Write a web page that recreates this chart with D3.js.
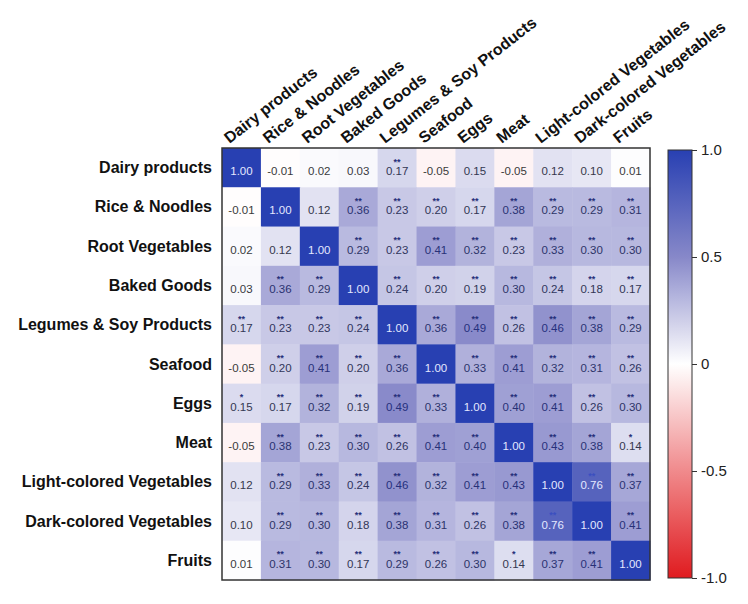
<!DOCTYPE html>
<html>
<head>
<meta charset="utf-8">
<script src="https://cdn.jsdelivr.net/npm/d3@7"></script>
<style>
  html, body { margin: 0; padding: 0; background: #fff; }
  svg { display: block; font-family: "Liberation Sans", Arial, sans-serif; }
</style>
</head>
<body>
<svg id="chart" width="748" height="604"></svg>
<script>
const categories = [
  "Dairy products", "Rice & Noodles", "Root Vegetables", "Baked Goods",
  "Legumes & Soy Products", "Seafood", "Eggs", "Meat",
  "Light-colored Vegetables", "Dark-colored Vegetables", "Fruits"
];

const corrValues = [
  [1.00, -0.01, 0.02, 0.03, 0.17, -0.05, 0.15, -0.05, 0.12, 0.10, 0.01],
  [-0.01, 1.00, 0.12, 0.36, 0.23, 0.20, 0.17, 0.38, 0.29, 0.29, 0.31],
  [0.02, 0.12, 1.00, 0.29, 0.23, 0.41, 0.32, 0.23, 0.33, 0.30, 0.30],
  [0.03, 0.36, 0.29, 1.00, 0.24, 0.20, 0.19, 0.30, 0.24, 0.18, 0.17],
  [0.17, 0.23, 0.23, 0.24, 1.00, 0.36, 0.49, 0.26, 0.46, 0.38, 0.29],
  [-0.05, 0.20, 0.41, 0.20, 0.36, 1.00, 0.33, 0.41, 0.32, 0.31, 0.26],
  [0.15, 0.17, 0.32, 0.19, 0.49, 0.33, 1.00, 0.40, 0.41, 0.26, 0.30],
  [-0.05, 0.38, 0.23, 0.30, 0.26, 0.41, 0.40, 1.00, 0.43, 0.38, 0.14],
  [0.12, 0.29, 0.33, 0.24, 0.46, 0.32, 0.41, 0.43, 1.00, 0.76, 0.37],
  [0.10, 0.29, 0.30, 0.18, 0.38, 0.31, 0.26, 0.38, 0.76, 1.00, 0.41],
  [0.01, 0.31, 0.30, 0.17, 0.29, 0.26, 0.30, 0.14, 0.37, 0.41, 1.00]
];

const sigMarks = [
  ["", "", "", "", "**", "", "", "", "", "", ""],
  ["", "", "", "**", "**", "**", "**", "**", "**", "**", "**"],
  ["", "", "", "**", "**", "**", "**", "**", "**", "**", "**"],
  ["", "**", "**", "", "**", "**", "**", "**", "**", "**", "**"],
  ["**", "**", "**", "**", "", "**", "**", "**", "**", "**", "**"],
  ["", "**", "**", "**", "**", "", "**", "**", "**", "**", "**"],
  ["*", "**", "**", "**", "**", "**", "", "**", "**", "**", "**"],
  ["", "**", "**", "**", "**", "**", "**", "", "**", "**", "*"],
  ["", "**", "**", "**", "**", "**", "**", "**", "", "**", "**"],
  ["", "**", "**", "**", "**", "**", "**", "**", "**", "", "**"],
  ["", "**", "**", "**", "**", "**", "**", "*", "**", "**", ""]
];

const legendTicks = [1, 0.5, 0, -0.5, -1];
const legendTickLabels = ["1.0", "0.5", "0", "-0.5", "-1.0"];

const svg = d3.select("#chart");

const x = d3.scaleBand().domain(categories).range([222, 650]);
const y = d3.scaleBand().domain(categories).range([148, 580]);

const color = d3.scaleLinear()
  .domain([-1, -0.5, 0, 0.5, 1])
  .range(["#e01b1f", "#f08a8c", "#ffffff", "#8788c9", "#2840b2"])
  .clamp(true);

const cells = [];
corrValues.forEach((row, i) => row.forEach((v, j) => {
  cells.push({ r: categories[i], c: categories[j], v, sig: sigMarks[i][j], diag: i === j });
}));

const g = svg.append("g");

g.selectAll("rect.cell").data(cells).join("rect")
  .attr("class", "cell")
  .attr("x", d => x(d.c))
  .attr("y", d => y(d.r))
  .attr("width", x.bandwidth() + 0.5)
  .attr("height", y.bandwidth() + 0.5)
  .attr("fill", d => color(d.v));

function textColor(v) {
  if (v >= 0.7) return "#e4e8ff";
  const t = Math.max(0, Math.min(1, v / 0.45));
  return d3.interpolateRgb("#3a3a3a", "#26307e")(t);
}

g.selectAll("text.val").data(cells).join("text")
  .attr("class", "val")
  .attr("x", d => x(d.c) + x.bandwidth() / 2)
  .attr("y", d => y(d.r) + y.bandwidth() / 2 + 7.5)
  .attr("text-anchor", "middle")
  .attr("font-size", 11.5)
  .attr("fill", d => textColor(d.v))
  .text(d => d.v.toFixed(2));

g.selectAll("text.sig").data(cells.filter(d => d.sig)).join("text")
  .attr("class", "sig")
  .attr("x", d => x(d.c) + x.bandwidth() / 2)
  .attr("y", d => y(d.r) + y.bandwidth() / 2 - 3)
  .attr("text-anchor", "middle")
  .attr("font-size", 9)
  .attr("font-weight", "bold")
  .attr("fill", d => d.v >= 0.7 ? "#3b4fc0" : "#27307a")
  .text(d => d.sig);

// border
svg.append("rect")
  .attr("x", 222).attr("y", 148)
  .attr("width", 428).attr("height", 432)
  .attr("fill", "none").attr("stroke", "#333").attr("stroke-width", 1.5);

// row labels
svg.selectAll("text.rowlab").data(categories).join("text")
  .attr("class", "rowlab")
  .attr("x", 212)
  .attr("y", d => y(d) + y.bandwidth() / 2 + 5.5)
  .attr("text-anchor", "end")
  .attr("font-size", 16)
  .attr("font-weight", "bold")
  .attr("fill", "#111")
  .text(d => d);

// column labels
svg.selectAll("text.collab").data(categories).join("text")
  .attr("class", "collab")
  .attr("transform", d => `translate(${x(d) + x.bandwidth() / 2 - 12},${144}) rotate(-38)`)
  .attr("text-anchor", "start")
  .attr("font-size", 16)
  .attr("font-weight", "bold")
  .attr("fill", "#111")
  .text(d => d);

// colour bar
const defs = svg.append("defs");
const grad = defs.append("linearGradient").attr("id", "cbar")
  .attr("x1", 0).attr("y1", 1).attr("x2", 0).attr("y2", 0);
d3.range(0, 1.0001, 0.05).forEach(t => {
  grad.append("stop").attr("offset", t).attr("stop-color", color(-1 + 2 * t));
});

const cy = d3.scaleLinear().domain([-1, 1]).range([578, 150]);
svg.append("rect")
  .attr("x", 668).attr("y", 150).attr("width", 24).attr("height", 428)
  .attr("fill", "url(#cbar)").attr("stroke", "#333").attr("stroke-width", 1);

const axis = d3.axisRight(cy)
  .tickValues(legendTicks)
  .tickSize(5)
  .tickPadding(4)
  .tickFormat((d, i) => legendTickLabels[i]);

const ag = svg.append("g").attr("transform", "translate(692,0)").call(axis);
ag.select(".domain").remove();
ag.selectAll("line").attr("stroke", "#333");
ag.selectAll("text").attr("font-size", 15).attr("fill", "#222")
  .attr("font-family", "'Liberation Sans', Arial, sans-serif");
</script>
</body>
</html>
